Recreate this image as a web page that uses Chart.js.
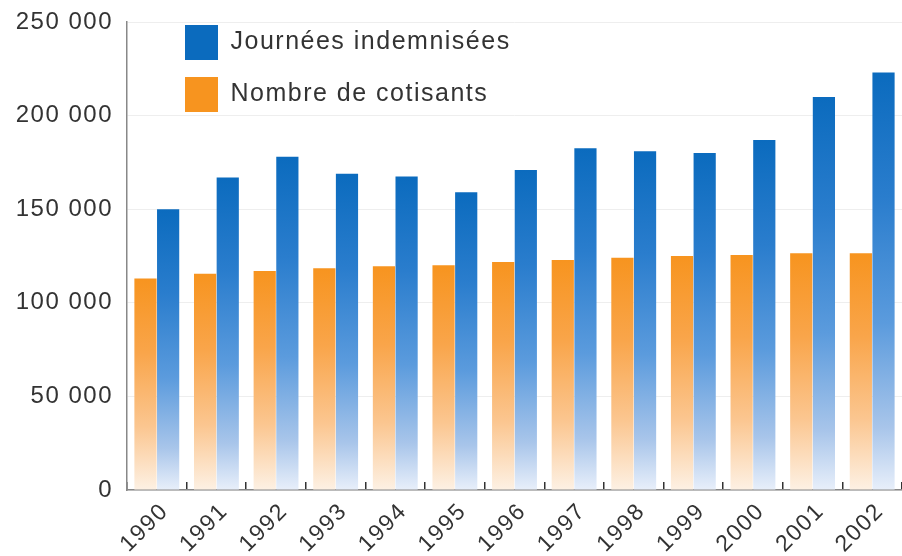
<!DOCTYPE html>
<html>
<head>
<meta charset="utf-8">
<script src="https://cdn.jsdelivr.net/npm/chart.js@4"></script>
<style>
  body { margin: 0; background: #fff; }
</style>
</head>
<body>
<canvas id="chart" width="902" height="556"></canvas>
<script>
// years on the x axis
const years = ['1990', '1991', '1992', '1993', '1994', '1995', '1996', '1997', '1998', '1999', '2000', '2001', '2002'];

// series
const cotisants = [113000, 115500, 117000, 118500, 119500, 120000, 121800, 122800, 124000, 125000, 125500, 126500, 126500];
const journees = [150000, 167000, 178000, 169000, 167500, 159000, 171000, 182500, 181000, 180000, 187000, 210000, 223000];

const yMax = 250000;
const yStep = 50000;

// vertical gradient per bar, from its top down to zero
function barFill(stops, solid) {
  return ctx => {
    const { chart, dataIndex, dataset } = ctx;
    if (!chart.chartArea || dataIndex === undefined) return solid;
    const y = chart.scales.y;
    const top = y.getPixelForValue(dataset.data[dataIndex]);
    const bottom = y.getPixelForValue(0);
    const g = chart.ctx.createLinearGradient(0, top, 0, bottom);
    stops.forEach(([o, c]) => g.addColorStop(o, c));
    return g;
  };
}

const blueStops = [[0, '#0b6bbe'], [0.3, '#2a7dcd'], [0.6, '#5b9bdd'], [0.85, '#a8c5ea'], [1, '#e8effa']];
const orangeStops = [[0, '#f7941f'], [0.35, '#f9a54a'], [0.7, '#fbc690'], [1, '#fdf1e4']];

// wider text, the picture's lettering is a bit stretched
const spacing = {
  id: 'spacing',
  beforeUpdate(chart) { chart.ctx.letterSpacing = '1.5px'; },
  beforeDraw(chart) { chart.ctx.letterSpacing = '1.5px'; }
};

// move the legend into the top-left corner of the plot
const legendShift = {
  id: 'legendShift',
  afterLayout(chart) {
    chart.legend.left += 41;
    chart.legend.top += 8;
  }
};

new Chart(document.getElementById('chart'), {
  type: 'bar',
  plugins: [spacing, legendShift],
  data: {
    labels: years,
    datasets: [
      {
        label: 'Nombre de cotisants',
        data: cotisants,
        backgroundColor: barFill(orangeStops, '#f7941f'),
        borderWidth: 0
      },
      {
        label: 'Journées indemnisées',
        data: journees,
        backgroundColor: barFill(blueStops, '#1a72c4'),
        borderWidth: 0
      }
    ]
  },
  options: {
    responsive: false,
    animation: false,
    barPercentage: 0.98,
    categoryPercentage: 0.76,
    layout: {
      padding: { top: 22, right: 0, left: 0, bottom: 0 }
    },
    scales: {
      x: {
        afterFit: scale => {
          scale.height = 66;
          scale.paddingLeft = 0;
          scale.paddingRight = 0;
        },
        grid: {
          drawOnChartArea: false,
          color: '#333',
          lineWidth: 1.5,
          tickLength: -8
        },
        border: { color: '#888', width: 1.5 },
        ticks: {
          color: '#333',
          font: { family: 'Liberation Sans', size: 23 },
          maxRotation: 45,
          minRotation: 45,
          labelOffset: 8,
          padding: 16
        }
      },
      y: {
        min: 0,
        max: yMax,
        afterFit: scale => {
          scale.width = 127;
          scale.paddingTop = 0;
          scale.paddingBottom = 0;
        },
        grid: {
          color: '#eeeeee',
          drawTicks: false
        },
        border: { color: '#888', width: 1.5 },
        ticks: {
          stepSize: yStep,
          color: '#333',
          padding: 14,
          font: { family: 'Liberation Sans', size: 24 },
          callback: v => String(v).replace(/\B(?=(\d{3})+(?!\d))/g, ' ')
        }
      }
    },
    plugins: {
      legend: {
        position: 'chartArea',
        align: 'start',
        reverse: true,
        labels: {
          boxWidth: 33,
          boxHeight: 35,
          padding: 17,
          color: '#333',
          font: { family: 'Liberation Sans', size: 25 }
        }
      },
      tooltip: { enabled: false }
    }
  }
});
</script>
</body>
</html>
